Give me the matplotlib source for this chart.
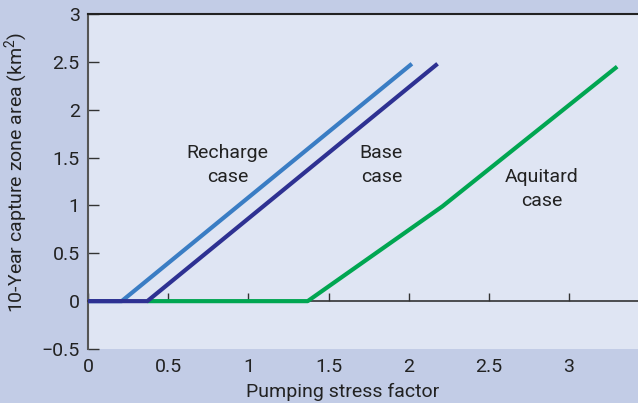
import matplotlib
matplotlib.use("Agg")
import matplotlib.pyplot as plt

# Data (pumping stress factor vs 10-year capture zone area, km^2)
recharge_x = [0.0, 0.21, 2.02]
recharge_y = [0.0, 0.0, 2.48]
base_x = [0.0, 0.37, 2.18]
base_y = [0.0, 0.0, 2.48]
aquitard_x = [0.37, 1.37, 2.21, 3.30]
aquitard_y = [0.0, 0.0, 0.99, 2.45]

xticks = [0, 0.5, 1, 1.5, 2, 2.5, 3]
xticklabels = ["0", "0.5", "1", "1.5", "2", "2.5", "3"]
yticks = [-0.5, 0, 0.5, 1, 1.5, 2, 2.5, 3]
yticklabels = ["\u22120.5", "0", "0.5", "1", "1.5", "2", "2.5", "3"]

FONT = ["Roboto", "DejaVu Sans"]
plt.rcParams["font.family"] = FONT
plt.rcParams["mathtext.fontset"] = "custom"
plt.rcParams["mathtext.rm"] = "Roboto"

FS = 14
TXT = "#222222"

W, H = 638, 403
fig = plt.figure(figsize=(W / 100, H / 100), dpi=100)
fig.patch.set_facecolor("#c2cce6")
ax = fig.add_axes([88 / W, (H - 349) / H, (W - 88) / W, (349 - 14) / H])
ax.set_facecolor("#dfe5f3")

ax.plot(aquitard_x, aquitard_y, color="#00a651", lw=3.0, solid_capstyle="butt", zorder=3)
ax.plot(recharge_x, recharge_y, color="#3a7dc4", lw=3.0, solid_capstyle="butt", zorder=4)
ax.plot(base_x, base_y, color="#2e3192", lw=3.0, solid_capstyle="butt", zorder=5)

ax.set_xlim(0, 3.43)
ax.set_ylim(-0.5, 3)

ax.spines["right"].set_visible(False)
ax.spines["bottom"].set_position(("data", 0))
ax.spines["bottom"].set_color("#333333")
ax.spines["bottom"].set_linewidth(1.2)
ax.spines["left"].set_color("#555555")
ax.spines["left"].set_linewidth(1.5)
ax.spines["top"].set_color("#222222")
ax.spines["top"].set_linewidth(1.5)

ax.set_xticks(xticks)
ax.set_xticklabels(xticklabels)
ax.set_yticks(yticks)
ax.set_yticklabels(yticklabels)
ax.tick_params(axis="x", direction="in", length=6, width=1, color="#333333",
               pad=41, labelsize=FS, labelcolor=TXT)
ax.tick_params(axis="y", direction="in", length=8, width=1, color="#333333",
               pad=6, labelsize=FS, labelcolor=TXT)

fig.text(343 / W, 1 - 392 / H, "Pumping stress factor",
         ha="center", va="center", fontsize=FS, color=TXT)
fig.text(17 / W, 1 - 172 / H, "10-Year capture zone area (km$^2$)", rotation=90,
         ha="center", va="center", fontsize=FS, color=TXT)

ax.text(0.87, 1.42, "Recharge\ncase", ha="center", va="center", fontsize=FS,
        color=TXT, linespacing=1.42)
ax.text(1.83, 1.42, "Base\ncase", ha="center", va="center", fontsize=FS,
        color=TXT, linespacing=1.42)
ax.text(2.83, 1.17, "Aquitard\ncase", ha="center", va="center", fontsize=FS,
        color=TXT, linespacing=1.42)

fig.savefig("out.png", dpi=100, facecolor=fig.get_facecolor())
